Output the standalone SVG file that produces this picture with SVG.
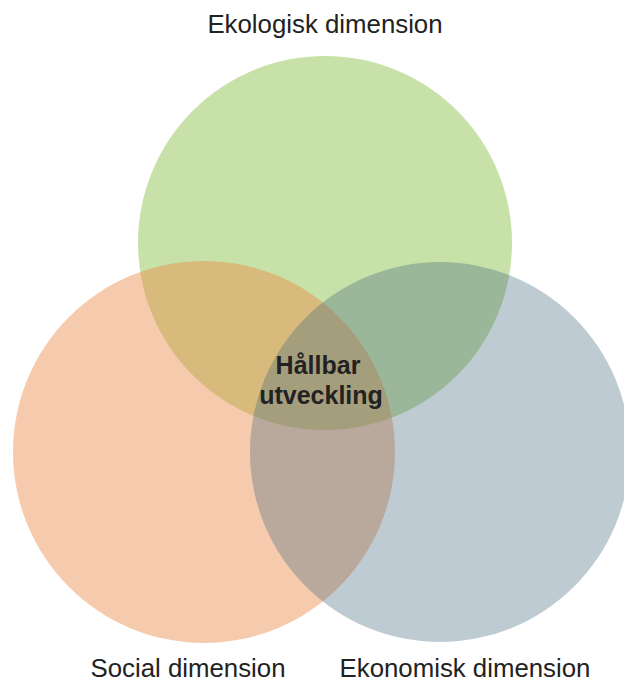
<svg xmlns="http://www.w3.org/2000/svg" width="624" height="684" viewBox="0 0 624 684">
<style>
.lbl{font-family:"Liberation Sans",Arial,sans-serif;font-size:25.8px;fill:#222;text-anchor:middle}
.ctr{font-family:"Liberation Sans",Arial,sans-serif;font-size:25px;font-weight:bold;fill:#222;text-anchor:middle}
</style>
<rect width="624" height="684" fill="#fff"/>
<g id="ekologisk">
<circle cx="325" cy="243" r="187" fill="#c8e1a9"/>
<text class="lbl" x="325" y="33">Ekologisk dimension</text>
</g>
<g id="social">
<circle cx="204" cy="452" r="191" fill="#ea8640" fill-opacity="0.43"/>
<text class="lbl" x="188" y="677">Social dimension</text>
</g>
<g id="ekonomisk">
<circle cx="440" cy="452" r="190" fill="#486a7e" fill-opacity="0.35"/>
<text class="lbl" x="465" y="677">Ekonomisk dimension</text>
</g>
<g id="hallbar">
<text class="ctr" x="318" y="374">Hållbar</text>
<text class="ctr" x="321" y="404">utveckling</text>
</g>
<g id="connectors"/>
</svg>
